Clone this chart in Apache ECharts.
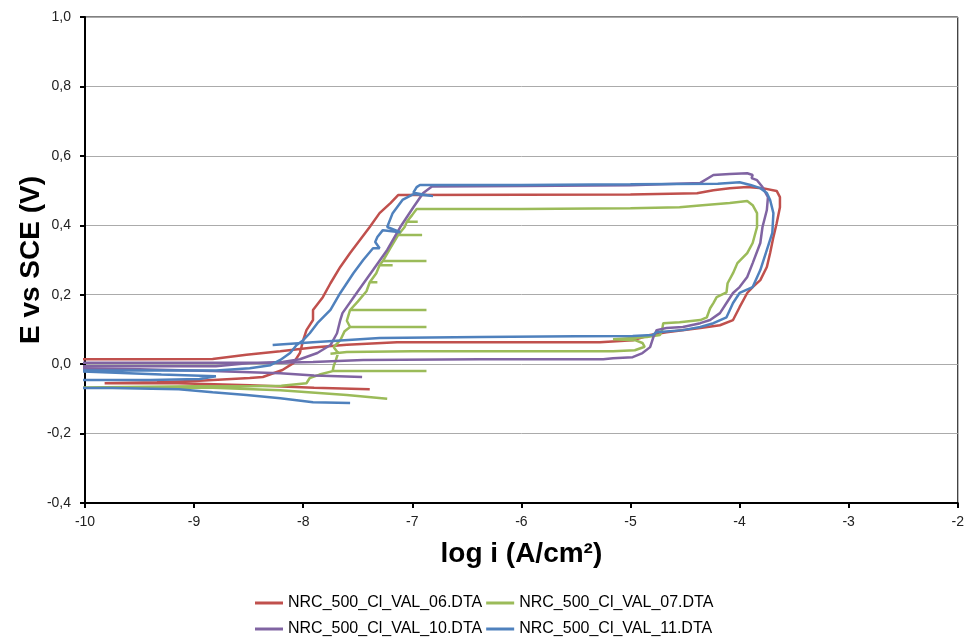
<!DOCTYPE html>
<html>
<head>
<meta charset="utf-8">
<script src="https://cdn.jsdelivr.net/npm/echarts@6/dist/echarts.min.js"></script>
<style>
html,body{margin:0;padding:0;background:#fff;}
#chart{width:967px;height:641px;}
</style>
</head>
<body>
<div id="chart"></div>
<script>
// Series names
const seriesNames = ['NRC_500_Cl_VAL_06.DTA','NRC_500_Cl_VAL_07.DTA','NRC_500_Cl_VAL_10.DTA','NRC_500_Cl_VAL_11.DTA'];

// [log i (A/cm2), E vs SCE (V)] pairs
const red06 = [
  [-7.39,-0.072],[-7.9,-0.068],[-8.49,-0.061],[-9.15,-0.055],[-9.82,-0.055],[-9.34,-0.052],[-8.95,-0.048],
  [-8.49,-0.040],[-8.37,-0.037],[-8.19,-0.017],[-8.09,0.003],[-8.03,0.032],[-8.00,0.069],[-7.97,0.098],
  [-7.91,0.127],[-7.91,0.156],[-7.82,0.193],[-7.75,0.233],[-7.66,0.280],[-7.57,0.320],[-7.39,0.395],
  [-7.30,0.435],[-7.20,0.464],[-7.13,0.487],[-6.0,0.488],[-5.0,0.489],[-4.39,0.492],[-4.24,0.501],
  [-4.09,0.507],[-3.93,0.510],[-3.79,0.507],[-3.66,0.499],[-3.63,0.481],[-3.63,0.452],[-3.66,0.406],
  [-3.69,0.366],[-3.72,0.320],[-3.75,0.280],[-3.81,0.242],[-3.88,0.222],[-3.93,0.205],[-4.00,0.164],
  [-4.06,0.127],[-4.18,0.112],[-4.36,0.104],[-4.67,0.092],[-4.82,0.084],[-4.98,0.069],[-5.28,0.063],
  [-6.38,0.063],[-7.14,0.063],[-7.60,0.056],[-7.91,0.048],[-8.21,0.037],[-8.52,0.027],[-8.83,0.015],
  [-9.5,0.014],[-10.3,0.014]
];
const green07 = [
  [-7.23,-0.100],[-7.60,-0.089],[-8.21,-0.075],[-8.83,-0.068],[-9.5,-0.068],[-10.3,-0.068],
  [-10.3,-0.064],[-9.0,-0.064],[-8.5,-0.064],[-8.2,-0.062],[-7.97,-0.055],[-7.94,-0.040],[-7.85,-0.030],
  [-7.73,-0.020],[-6.87,-0.020],[-7.73,-0.020],[-7.72,-0.005],[-7.70,0.012],[-7.68,0.032],[-7.72,0.049],
  [-7.66,0.069],[-7.62,0.095],[-7.57,0.107],[-6.87,0.107],[-7.57,0.107],[-7.60,0.125],[-7.57,0.156],
  [-6.87,0.156],[-7.57,0.156],[-7.50,0.180],[-7.42,0.210],[-7.39,0.236],[-7.32,0.236],[-7.39,0.236],
  [-7.33,0.262],[-7.30,0.285],[-7.18,0.285],[-7.30,0.285],[-7.27,0.297],[-6.87,0.297],[-7.27,0.297],
  [-7.20,0.335],[-7.13,0.372],[-6.91,0.372],[-7.13,0.372],[-7.07,0.395],[-7.05,0.410],[-6.95,0.410],
  [-7.05,0.410],[-7.00,0.430],[-6.96,0.447],
  [-6.0,0.447],[-5.0,0.449],[-4.55,0.452],[-4.34,0.458],[-4.09,0.464],[-3.93,0.470],[-3.88,0.458],
  [-3.84,0.435],[-3.84,0.395],[-3.88,0.349],[-3.93,0.320],[-4.02,0.291],[-4.06,0.262],[-4.11,0.233],
  [-4.12,0.207],[-4.21,0.193],[-4.24,0.176],[-4.27,0.161],[-4.30,0.135],[-4.36,0.127],[-4.55,0.121],
  [-4.70,0.118],[-4.71,0.098],[-4.73,0.084],[-4.85,0.078],[-4.98,0.075],[-5.16,0.072],[-4.96,0.069],
  [-4.89,0.061],[-4.87,0.050],[-4.96,0.040],[-5.16,0.037],[-6.0,0.037],[-7.0,0.037],[-7.6,0.035],
  [-7.75,0.030]
];
const purple10 = [
  [-7.46,-0.037],[-7.9,-0.033],[-8.21,-0.026],[-8.83,-0.020],[-9.5,-0.015],[-10.3,-0.012],
  [-10.3,-0.006],[-9.5,-0.006],[-8.8,-0.006],[-8.49,0.003],[-8.19,0.006],[-8.03,0.014],[-7.87,0.032],
  [-7.75,0.055],[-7.69,0.089],[-7.66,0.127],[-7.64,0.147],[-7.51,0.205],[-7.36,0.271],[-7.23,0.329],
  [-7.11,0.395],[-6.99,0.452],[-6.90,0.493],[-6.82,0.512],
  [-6.0,0.513],[-5.0,0.515],[-4.36,0.522],[-4.24,0.545],[-4.09,0.548],[-3.93,0.550],[-3.88,0.545],
  [-3.89,0.536],[-3.84,0.530],[-3.79,0.510],[-3.74,0.481],[-3.75,0.444],[-3.79,0.395],[-3.81,0.349],
  [-3.88,0.291],[-3.93,0.251],[-4.00,0.222],[-4.06,0.205],[-4.12,0.176],[-4.18,0.147],[-4.27,0.127],
  [-4.36,0.118],[-4.52,0.107],[-4.67,0.104],[-4.76,0.098],[-4.79,0.078],[-4.82,0.049],[-4.89,0.032],
  [-4.98,0.020],[-5.16,0.017],[-5.25,0.014],[-6.38,0.014],[-7.45,0.012],[-7.91,0.006],[-8.21,0.004],
  [-9.0,0.004],[-10.3,0.004]
];
const blue11 = [
  [-7.57,-0.112],[-7.91,-0.110],[-8.21,-0.098],[-8.52,-0.089],[-8.83,-0.081],[-9.14,-0.072],
  [-9.75,-0.069],[-10.3,-0.069],
  [-10.3,-0.046],[-9.4,-0.046],[-8.95,-0.043],[-8.80,-0.035],[-9.3,-0.030],[-10.3,-0.018],
  [-10.3,-0.017],[-9.5,-0.018],[-8.8,-0.018],[-8.49,-0.012],[-8.3,-0.003],[-8.21,0.012],[-8.12,0.032],
  [-8.06,0.055],[-8.00,0.069],[-7.94,0.089],[-7.87,0.118],[-7.75,0.156],[-7.66,0.205],[-7.54,0.262],
  [-7.45,0.300],[-7.36,0.334],[-7.30,0.334],[-7.34,0.352],[-7.32,0.366],[-7.27,0.386],[-7.11,0.380],
  [-7.23,0.395],[-7.18,0.435],[-7.09,0.473],[-6.99,0.490],[-6.81,0.484],[-6.99,0.494],[-6.96,0.510],
  [-6.93,0.516],
  [-6.0,0.516],[-5.0,0.518],[-4.2,0.520],[-4.00,0.524],[-3.90,0.516],[-3.81,0.507],[-3.75,0.493],
  [-3.72,0.473],[-3.69,0.435],[-3.70,0.378],[-3.75,0.329],[-3.81,0.271],[-3.88,0.222],[-4.00,0.205],
  [-4.06,0.176],[-4.12,0.135],[-4.24,0.118],[-4.36,0.107],[-4.52,0.098],[-4.76,0.092],[-4.80,0.084],
  [-4.98,0.081],[-5.5,0.080],[-6.38,0.078],[-7.3,0.075],[-7.91,0.063],[-8.28,0.055]
];

const seriesData = [red06, green07, purple10, blue11];
const seriesColors = ['#C0504D','#9BBB59','#8064A2','#4F81BD'];

const xMin = -10, xMax = -2, xStep = 1;
const yMin = -0.4, yMax = 1.0, yStep = 0.2;

const chart = echarts.init(document.getElementById('chart'), null, {renderer:'canvas'});
const font = '"Liberation Sans", Arial, sans-serif';

const option = {
  animation: false,
  backgroundColor: '#fff',
  textStyle: {fontFamily: font},
  grid: {left: 85, right: 9, top: 17, bottom: 138, show: true, borderColor: '#000', borderWidth: 1},
  legend: [
    {data: [seriesNames[0], seriesNames[1]], left: 255, top: 595, itemWidth: 28, itemHeight: 3, itemGap: 4,
     icon: 'rect', padding: 0, textStyle: {fontFamily: font, fontSize: 16, color: '#000'}},
    {data: [seriesNames[2], seriesNames[3]], left: 255, top: 621, itemWidth: 28, itemHeight: 3, itemGap: 4,
     icon: 'rect', padding: 0, textStyle: {fontFamily: font, fontSize: 16, color: '#000'}}
  ],
  xAxis: {
    type: 'value', min: xMin, max: xMax, interval: xStep,
    name: 'log i (A/cm²)', nameLocation: 'middle', nameGap: 37, nameMoveOverlap: false,
    nameTextStyle: {fontFamily: font, fontSize: 28, fontWeight: 'bold', color: '#000'},
    axisLine: {onZero: false, lineStyle: {color: '#000', width: 2}},
    axisTick: {show: true, length: 5, lineStyle: {color: '#000', width: 2}},
    axisLabel: {fontSize: 14, color: '#222', margin: 12, formatter: v => String(Math.round(v))},
    splitLine: {show: false}
  },
  yAxis: {
    type: 'value', min: yMin, max: yMax, interval: yStep,
    name: 'E vs SCE (V)', nameLocation: 'middle', nameGap: 40, nameMoveOverlap: false,
    nameTextStyle: {fontFamily: font, fontSize: 28, fontWeight: 'bold', color: '#000'},
    axisLine: {onZero: false, lineStyle: {color: '#000', width: 2}},
    axisTick: {show: true, length: 5, lineStyle: {color: '#000', width: 2}},
    axisLabel: {fontSize: 14, color: '#222', margin: 14, formatter: v => v.toFixed(1).replace('.', ',')},
    splitLine: {show: true, lineStyle: {color: '#ababab', width: 1}}
  },
  series: seriesNames.map((n, i) => ({
    name: n, type: 'line', data: seriesData[i], showSymbol: false, symbol: 'none',
    clip: true, smooth: false,
    lineStyle: {color: seriesColors[i], width: 2.5}, itemStyle: {color: seriesColors[i]}
  }))
};
chart.setOption(option);
</script>
</body>
</html>
